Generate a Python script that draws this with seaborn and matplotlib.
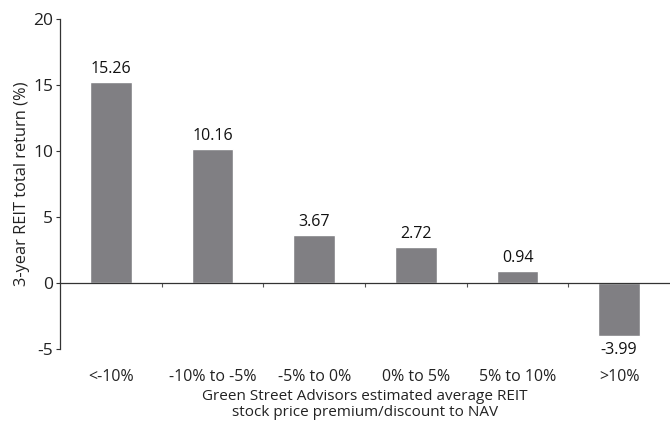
import matplotlib
matplotlib.use("Agg")
import matplotlib.pyplot as plt
import seaborn as sns
import pandas as pd
import numpy as np

# Premium/discount buckets and 3-year total returns
categories = ["<-10%", "-10% to -5%", "-5% to 0%", "0% to 5%", "5% to 10%", ">10%"]
returns = [15.26, 10.16, 3.67, 2.72, 0.94, -3.99]
y_ticks = [-5, 0, 5, 10, 15, 20]

df = pd.DataFrame({"bucket": categories, "ret": returns})

sns.set_theme(style="white")
plt.rcParams["font.family"] = ["Open Sans", "DejaVu Sans"]

fig = plt.figure(figsize=(6.7, 4.25), dpi=100)
ax = fig.add_axes([0.0896, 0.179, 0.9104, 0.776])

sns.barplot(data=df, x="bucket", y="ret", order=categories, color="#807f83",
            saturation=1, width=0.41, ax=ax)

ax.set_xlim(-0.5, len(categories) - 0.5)
ax.set_ylim(-5, 20)
ax.set_yticks(y_ticks)
ax.set_yticklabels([str(t) for t in y_ticks], fontsize=12.5, color="#222222")

# Category axis drawn along the zero line
for side in ["top", "right"]:
    ax.spines[side].set_visible(False)
ax.spines["bottom"].set_position(("data", 0))
ax.spines["bottom"].set_color("#333333")
ax.spines["bottom"].set_linewidth(0.9)
ax.spines["left"].set_color("#333333")
ax.spines["left"].set_linewidth(0.9)

ax.set_xticks(range(len(categories)))
ax.set_xticklabels(categories, fontsize=11.5, color="#222222")
ax.set_xticks(np.arange(0.5, len(categories) - 0.5, 1), minor=True)
ax.tick_params(axis="x", which="major", length=0, pad=62)
ax.tick_params(axis="x", which="minor", length=3, width=0.8, color="#555555",
               direction="out", bottom=True)
ax.tick_params(axis="y", length=3, width=0.8, color="#333333", left=True,
               direction="out", pad=2)

for i, v in enumerate(returns):
    if v >= 0:
        ax.text(i, v + 0.35, f"{v:.2f}", ha="center", va="bottom",
                fontsize=11.5, color="#111111")
    else:
        ax.text(i, v - 0.45, f"{v:.2f}", ha="center", va="top",
                fontsize=11.5, color="#111111")

ax.set_xlabel("Green Street Advisors estimated average REIT\nstock price premium/discount to NAV",
              fontsize=11, color="#222222", linespacing=1.1)
ax.xaxis.set_label_coords(0.5, -0.12)
ax.set_ylabel("3-year REIT total return (%)", fontsize=11.8, color="#222222")
ax.yaxis.set_label_coords(-0.05, 0.5)

fig.savefig("out.png", dpi=100, facecolor="white")
